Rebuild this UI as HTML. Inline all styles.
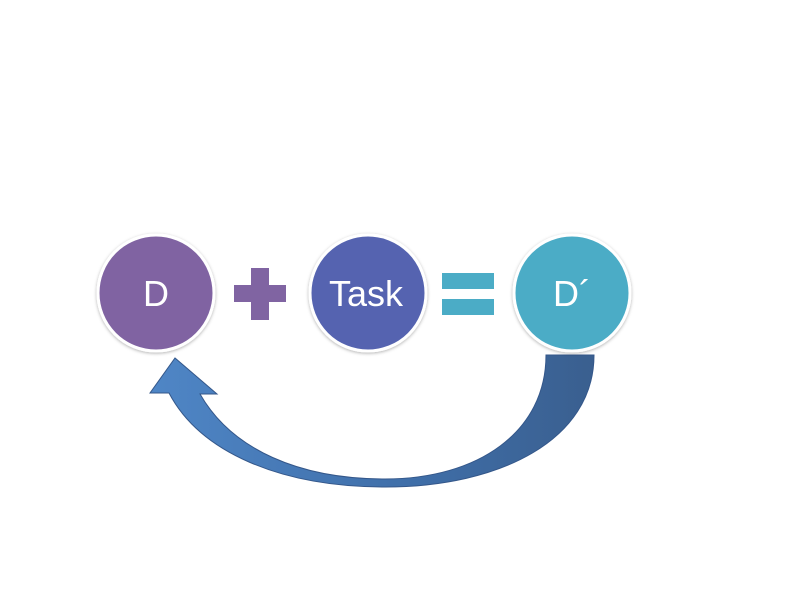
<!DOCTYPE html>
<html><head><style>
body{margin:0;background:#fff;width:800px;height:600px;overflow:hidden;font-family:"Liberation Sans",sans-serif;}
</style></head><body>
<svg width="800" height="600" xmlns="http://www.w3.org/2000/svg">
<defs>
<linearGradient id="g" x1="0" y1="0" x2="1" y2="0">
<stop offset="0" stop-color="#4f86c6"/>
<stop offset="0.6" stop-color="#3f6ea8"/>
<stop offset="1" stop-color="#3a5f8f"/>
</linearGradient>
<filter id="s" x="-20%" y="-20%" width="140%" height="140%"><feDropShadow dx="0" dy="1" stdDeviation="1.5" flood-opacity="0.3"/></filter>
</defs>
<path d="M546,355 L594,355 C594,440 500,487 385,487 C280,487 200,452 169,393 L150,393 L175,358 L217,394 L200,394 C232,450 300,479 385,479 C478,479 546,432 546,355 Z" fill="url(#g)" stroke="#34578a" stroke-width="1"/>
<circle cx="156" cy="293" r="58" fill="#8064a2" stroke="#fff" stroke-width="3" filter="url(#s)"/>
<circle cx="368" cy="293" r="58" fill="#5463b0" stroke="#fff" stroke-width="3" filter="url(#s)"/>
<circle cx="572" cy="293" r="58" fill="#4bacc6" stroke="#fff" stroke-width="3" filter="url(#s)"/>
<rect x="234" y="285" width="52" height="17" fill="#8064a2"/>
<rect x="251" y="268" width="18" height="52" fill="#8064a2"/>
<rect x="442" y="273" width="52" height="16" fill="#4bacc6"/>
<rect x="442" y="299" width="52" height="16" fill="#4bacc6"/>
<text x="156" y="306" font-size="36" fill="#fff" text-anchor="middle" font-family="Liberation Sans, sans-serif">D</text>
<text x="366" y="306" font-size="36" fill="#fff" text-anchor="middle" font-family="Liberation Sans, sans-serif">Task</text>
<text x="572" y="306" font-size="36" fill="#fff" text-anchor="middle" font-family="Liberation Sans, sans-serif">D´</text>
</svg>
</body></html>
